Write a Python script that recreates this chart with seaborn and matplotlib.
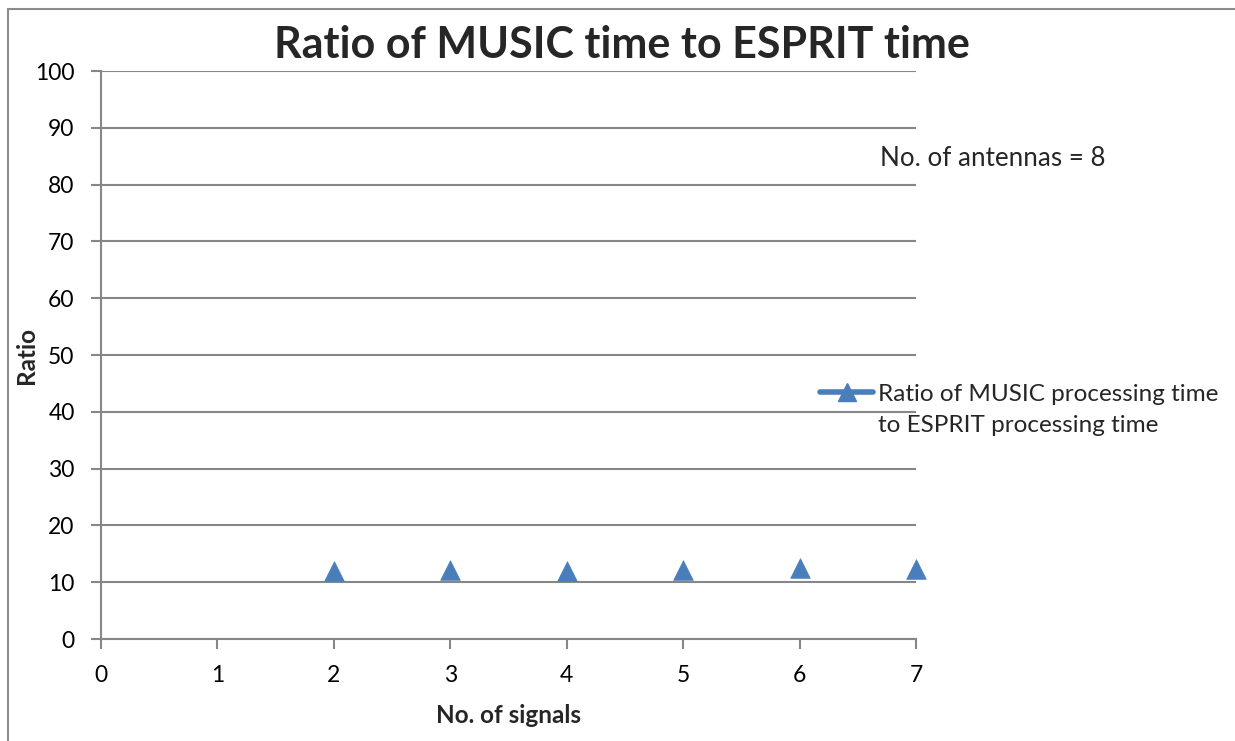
import matplotlib
matplotlib.use("Agg")
import matplotlib.pyplot as plt
from matplotlib.lines import Line2D
import seaborn as sns
import pandas as pd

# Data
signals = [2, 3, 4, 5, 6, 7]
ratio = [12.0, 12.15, 12.0, 12.15, 12.5, 12.25]
x_ticks = [0, 1, 2, 3, 4, 5, 6, 7]
y_ticks = [0, 10, 20, 30, 40, 50, 60, 70, 80, 90, 100]
series_label = "Ratio of MUSIC processing time"
series_label2 = "to ESPRIT processing time"
title = "Ratio of MUSIC time to ESPRIT time"
note = "No. of antennas = 8"

sns.set_theme(style="white")
plt.rcParams['font.family'] = ['Lato', 'DejaVu Sans']

W, H = 1235, 741
fig = plt.figure(figsize=(W / 100, H / 100), dpi=100)
ax = fig.add_axes([101 / W, 1 - 639 / H, (916 - 101) / W, (639 - 71) / H])

color = "#4A7EBB"
grid_c = "#878787"
df = pd.DataFrame({"signals": signals, "ratio": ratio})
sns.scatterplot(data=df, x="signals", y="ratio", marker="^", s=200, color=color,
                edgecolor=color, linewidth=0.5, ax=ax, zorder=5, clip_on=False, legend=False)

ax.set_xlim(0, 7)
ax.set_ylim(0, 100)
ax.set_xticks(x_ticks)
ax.set_yticks(y_ticks)
ax.yaxis.grid(True, color=grid_c, linewidth=1.5)
ax.xaxis.grid(False)
for s in ["top", "right"]:
    ax.spines[s].set_visible(False)
for s in ["left", "bottom"]:
    ax.spines[s].set_color(grid_c)
    ax.spines[s].set_linewidth(1.5)
ax.tick_params(axis="both", which="both", direction="out", length=7, width=1.5,
               color=grid_c, labelsize=16.5, labelcolor="black")
ax.tick_params(axis="x", bottom=True, pad=12)
ax.tick_params(axis="y", left=True, pad=12)

ax.set_xlabel("No. of signals", fontsize=17.5, fontweight="bold")
ax.set_ylabel("Ratio", fontsize=17.5, fontweight="bold")
ax.xaxis.set_label_coords(0.5, (639 - 704) / 568)
ax.yaxis.set_label_coords((38 - 101) / 815, 0.5)

fig.text(622 / W, 1 - 45 / H, title, fontsize=31, fontweight="bold",
         ha="center", va="center")
fig.text(880 / W, 1 - 158 / H, note, fontsize=18.7, ha="left", va="center")

handle = Line2D([], [], color=color, linewidth=4, marker="^", markersize=13,
                markeredgecolor=color)
leg = fig.legend([handle], [series_label], loc="center left",
                 bbox_to_anchor=(820 / W, 1 - 394 / H), frameon=False,
                 fontsize=17.5, handlelength=2.2, handletextpad=0.2,
                 borderpad=0, borderaxespad=0)
fig.text(878 / W, 1 - 426 / H, series_label2, fontsize=17.5, ha="left", va="center")

# Figure border (Excel chart area)
fig.add_artist(Line2D([8 / W, 8 / W], [0, 1 - 8.5 / H], transform=fig.transFigure,
                      color="#8c8c8c", linewidth=1.5))
fig.add_artist(Line2D([8 / W, 1], [1 - 8.5 / H, 1 - 8.5 / H], transform=fig.transFigure,
                      color="#8c8c8c", linewidth=1.5))

fig.savefig("out.png", dpi=100, facecolor="white")
